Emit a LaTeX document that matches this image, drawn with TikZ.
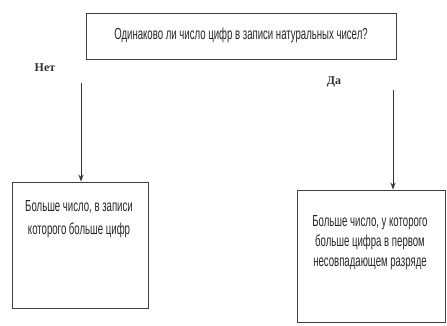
\documentclass[tikz,border=0pt]{standalone}
\usepackage{fontspec}
\usetikzlibrary{arrows.meta}
\setmainfont{Liberation Sans}
\newfontfamily\narrowfont[FakeStretch=0.6]{Liberation Sans}
\newfontfamily\serifb{Liberation Serif}
\begin{document}
\begin{tikzpicture}[x=1pt,y=-1pt,
  boxstyle/.style={draw=black!75,line width=0.9pt,inner sep=0pt},
  boxtext/.style={font=\narrowfont\fontsize{16}{21}\selectfont,align=center,text=black!85},
  answer/.style={font=\serifb\fontsize{12}{13}\selectfont\bfseries,text=black!80},
  arrowline/.style={draw=black!80,line width=0.8pt,-{Stealth[length=7pt,width=5pt]}}]
\useasboundingbox (0,0) rectangle (447,325);
\node[boxstyle,minimum width=310,minimum height=46] (q) at (241,36) {};
\node[boxtext] (qt) at (241,35) {Одинаково ли число цифр в записи натуральных чисел?};
\node[answer] (no) at (45,68) {Нет};
\node[answer] (yes) at (334,82) {Да};
\node[boxstyle,minimum width=136,minimum height=126] (lb) at (80,245) {};
\node[boxtext,anchor=north,font=\narrowfont\fontsize{16}{23}\selectfont] (lt) at (79,197) {Больше число, в записи\\которого больше цифр};
\node[boxstyle,minimum width=148,minimum height=132] (rb) at (371,256) {};
\node[boxtext,anchor=north,font=\narrowfont\fontsize{16}{20}\selectfont] (rt) at (370,212) {Больше число, у которого\\больше цифра в первом\\несовпадающем разряде};
\coordinate (la) at (81,83);
\coordinate (ra) at (393,90);
\draw[arrowline] (la) -- (lb.north -| la);
\draw[arrowline] (ra) -- (rb.north -| ra);
\end{tikzpicture}
\end{document}
